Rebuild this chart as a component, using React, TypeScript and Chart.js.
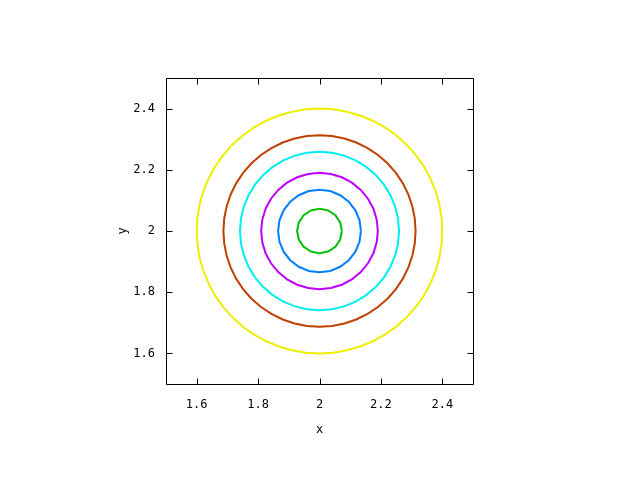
import React, { useEffect, useRef } from "react";
import { Chart, registerables } from "chart.js";

Chart.register(...registerables);

// Data
const centerX = 2.0;
const centerY = 2.0;
const contourRadii = [0.073, 0.135, 0.19, 0.259, 0.313, 0.4];
const contourColors = ["#00c000", "#0080ff", "#c000ff", "#00eeee", "#c04000", "#eeee00"];
const contourSegments = [16, 24, 32, 40, 48, 56];
const xTicks = [1.6, 1.8, 2.0, 2.2, 2.4];
const xTickLabels = ["1.6", "1.8", "2", "2.2", "2.4"];
const yTicks = [1.6, 1.8, 2.0, 2.2, 2.4];
const yTickLabels = ["1.6", "1.8", "2", "2.2", "2.4"];
const xRange = [1.5, 2.5];
const yRange = [1.5, 2.5];

const FONT = { family: "'DejaVu Sans Mono', monospace", size: 12 };

function contourPoints(r: number, n: number) {
  const pts: { x: number; y: number }[] = [];
  for (let i = 0; i <= n; i++) {
    const a = (i / n) * Math.PI * 2;
    pts.push({ x: centerX + r * Math.cos(a), y: centerY + r * Math.sin(a) });
  }
  return pts;
}

const framePlugin = {
  id: "gnuplotFrame",
  afterDatasetsDraw(chart: any) {
    const { ctx, chartArea } = chart;
    const xs = chart.scales.x;
    const ys = chart.scales.y;
    const L = Math.round(chartArea.left) + 0.5;
    const R = Math.round(chartArea.right) + 0.5;
    const T = Math.round(chartArea.top) + 0.5;
    const B = Math.round(chartArea.bottom) + 0.5;
    const tl = 6;
    ctx.save();
    ctx.strokeStyle = "#000";
    ctx.lineWidth = 1;
    ctx.beginPath();
    ctx.rect(L, T, R - L, B - T);
    xTicks.forEach((v) => {
      const px = Math.round(xs.getPixelForValue(v)) + 0.5;
      ctx.moveTo(px, B);
      ctx.lineTo(px, B - tl);
      ctx.moveTo(px, T);
      ctx.lineTo(px, T + tl);
    });
    yTicks.forEach((v) => {
      const py = Math.round(ys.getPixelForValue(v)) + 0.5;
      ctx.moveTo(L, py);
      ctx.lineTo(L + tl, py);
      ctx.moveTo(R, py);
      ctx.lineTo(R - tl, py);
    });
    ctx.stroke();
    ctx.restore();
  },
};

export default function App() {
  const ref = useRef<HTMLCanvasElement | null>(null);
  useEffect(() => {
    if (!ref.current) return;
    const datasets = contourRadii.map((r, i) => ({
      label: "contour " + (i + 1),
      data: contourPoints(r, contourSegments[i]),
      showLine: true,
      borderColor: contourColors[i],
      backgroundColor: contourColors[i],
      borderWidth: 2,
      pointRadius: 0,
      fill: false,
      tension: 0,
    }));
    const chart = new Chart(ref.current, {
      type: "scatter",
      data: { datasets },
      options: {
        animation: false,
        responsive: false,
        devicePixelRatio: 1,
        layout: { padding: { left: 116, top: 78, right: 167, bottom: 43 } },
        plugins: { legend: { display: false }, tooltip: { enabled: false } },
        scales: {
          x: {
            type: "linear",
            min: xRange[0],
            max: xRange[1],
            afterBuildTicks: (s: any) => {
              s.ticks = xTicks.map((v) => ({ value: v }));
            },
            afterFit: (s: any) => {
              s.height = 53;
            },
            grid: { display: false, drawTicks: false },
            border: { display: false },
            ticks: {
              color: "#000",
              font: FONT,
              padding: 14,
              maxRotation: 0,
              autoSkip: false,
              callback: (_v: any, i: number) => xTickLabels[i],
            },
            title: { display: true, text: "x", color: "#000", font: FONT, padding: 0 },
          },
          y: {
            type: "linear",
            min: yRange[0],
            max: yRange[1],
            afterBuildTicks: (s: any) => {
              s.ticks = yTicks.map((v) => ({ value: v }));
            },
            afterFit: (s: any) => {
              s.width = 50;
            },
            grid: { display: false, drawTicks: false },
            border: { display: false },
            ticks: {
              color: "#000",
              font: FONT,
              padding: 11,
              autoSkip: false,
              callback: (_v: any, i: number) => yTickLabels[i],
            },
            title: { display: true, text: "y", color: "#000", font: FONT, padding: 0 },
          },
        },
      },
      plugins: [framePlugin],
    });
    return () => chart.destroy();
  }, []);
  return (
    <div style={{ position: "absolute", left: 0, top: 0, width: 640, height: 480, background: "#fff" }}>
      <canvas ref={ref} width={640} height={480} style={{ width: 640, height: 480 }} />
    </div>
  );
}
